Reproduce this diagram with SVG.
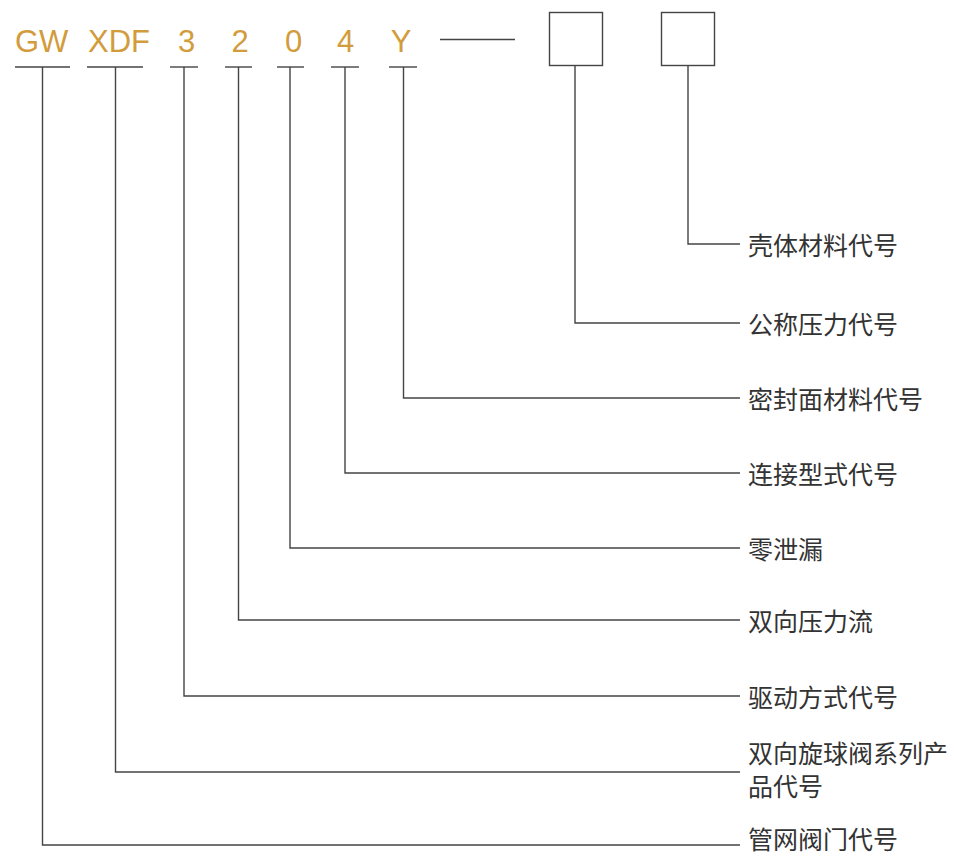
<svg xmlns="http://www.w3.org/2000/svg" width="954" height="856" viewBox="0 0 954 856">
<style>
.code{font-family:"Liberation Sans","Noto Sans",Arial,sans-serif;font-size:31px;fill:#D29C3C}
.lbl{font-family:"Noto Sans CJK SC","Noto Sans",sans-serif;font-size:25px;fill:#333}
.ln{fill:none;stroke:#444;stroke-width:1.4}
</style>
<rect width="954" height="856" fill="#fff"/>
<g id="code">
<text class="code" x="15" y="52">GW</text>
<text class="code" x="88" y="52">XDF</text>
<text class="code" x="186.5" y="52" text-anchor="middle">3</text>
<text class="code" x="240" y="52" text-anchor="middle">2</text>
<text class="code" x="293.5" y="52" text-anchor="middle">0</text>
<text class="code" x="345.5" y="52" text-anchor="middle">4</text>
<text class="code" x="401" y="52" text-anchor="middle">Y</text>
<line class="ln" x1="440" y1="39.5" x2="515" y2="39.5"/>
<rect id="box1" class="ln" x="549.5" y="12.5" width="53" height="53"/>
<rect id="box2" class="ln" x="661.5" y="12.5" width="53" height="53"/>
</g>
<g id="underlines">
<line class="ln" x1="15" y1="67" x2="70" y2="67"/>
<line class="ln" x1="87" y1="67" x2="143" y2="67"/>
<line class="ln" x1="170" y1="67" x2="198" y2="67"/>
<line class="ln" x1="225" y1="67" x2="252" y2="67"/>
<line class="ln" x1="277" y1="67" x2="304" y2="67"/>
<line class="ln" x1="331" y1="67" x2="359" y2="67"/>
<line class="ln" x1="389" y1="67" x2="417" y2="67"/>
</g>
<g id="connectors">
<polyline class="ln" points="688,66 688,244 740,244"/>
<polyline class="ln" points="575,66 575,323 740,323"/>
<polyline class="ln" points="403.5,67 403.5,398 740,398"/>
<polyline class="ln" points="345,67 345,473 740,473"/>
<polyline class="ln" points="290,67 290,548 740,548"/>
<polyline class="ln" points="238.5,67 238.5,620 740,620"/>
<polyline class="ln" points="184,67 184,696 740,696"/>
<polyline class="ln" points="115.5,67 115.5,772 740,772"/>
<polyline class="ln" points="42.5,67 42.5,845 740,845"/>
</g>
<g id="labels">
<text id="l1" class="lbl" x="748" y="255">壳体材料代号</text>
<text id="l2" class="lbl" x="748" y="334">公称压力代号</text>
<text id="l3" class="lbl" x="748" y="409">密封面材料代号</text>
<text id="l4" class="lbl" x="748" y="484">连接型式代号</text>
<text id="l5" class="lbl" x="748" y="559">零泄漏</text>
<text id="l6" class="lbl" x="748" y="631">双向压力流</text>
<text id="l7" class="lbl" x="748" y="707">驱动方式代号</text>
<g id="l8">
<text class="lbl" x="748" y="763">双向旋球阀系列产</text>
<text class="lbl" x="748" y="796">品代号</text>
</g>
<text id="l9" class="lbl" x="748" y="849">管网阀门代号</text>
</g>
</svg>
